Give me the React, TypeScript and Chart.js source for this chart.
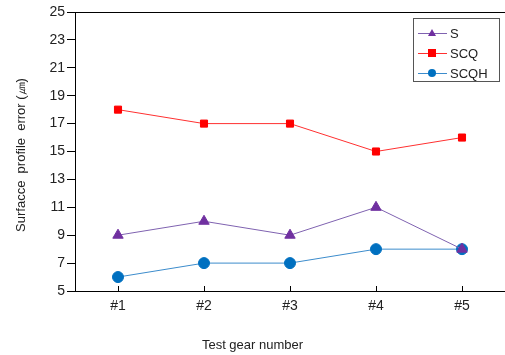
import React, { useEffect, useRef } from "react";
import { Chart, registerables } from "chart.js";

Chart.register(...registerables);

const gears = ["#1", "#2", "#3", "#4", "#5"];
const sValues = [9, 10, 9, 11, 8];
const scqValues = [18, 17, 17, 15, 16];
const scqhValues = [6, 7, 7, 8, 8];

const yTitle = "Surfacce  profile  error (㎛)";
const xTitle = "Test gear number";

const FONT = "'Liberation Sans', Arial, sans-serif";

const series = [
  { label: "S", data: sValues, line: "#7f62b0", fill: "#7030a0", style: "triangle" },
  { label: "SCQ", data: scqValues, line: "#ff3030", fill: "#ff0000", style: "rect" },
  { label: "SCQH", data: scqhValues, line: "#3c8ccc", fill: "#0070c0", style: "circle" },
];

function drawMarker(ctx: CanvasRenderingContext2D, style: string, x: number, y: number, r: number, color: string) {
  ctx.save();
  ctx.fillStyle = color;
  ctx.beginPath();
  if (style === "circle") {
    ctx.arc(x, y, r, 0, Math.PI * 2);
  } else if (style === "rect") {
    ctx.rect(x - r, y - r, r * 2, r * 2);
  } else {
    ctx.moveTo(x, y - r);
    ctx.lineTo(x + r, y + r * 0.75);
    ctx.lineTo(x - r, y + r * 0.75);
    ctx.closePath();
  }
  ctx.fill();
  ctx.restore();
}

const decorations = {
  id: "decorations",
  afterDraw(chart: any) {
    const { ctx, chartArea } = chart;
    const xScale = chart.scales.x;
    ctx.save();
    // top frame line
    ctx.strokeStyle = "#000";
    ctx.lineWidth = 1;
    ctx.beginPath();
    ctx.moveTo(chartArea.left, chartArea.top + 0.5);
    ctx.lineTo(chartArea.right, chartArea.top + 0.5);
    ctx.stroke();
    // inward category ticks on the x axis
    ctx.beginPath();
    gears.forEach((_, i) => {
      const x = Math.round(xScale.getPixelForValue(i)) + 0.5;
      ctx.moveTo(x, chartArea.bottom);
      ctx.lineTo(x, chartArea.bottom - 5);
    });
    ctx.stroke();

    // axis titles
    ctx.fillStyle = "#222";
    ctx.font = `13px ${FONT}`;
    ctx.textAlign = "center";
    ctx.textBaseline = "middle";
    ctx.fillText(xTitle, chart.width / 2, 345);
    ctx.save();
    ctx.translate(21, 155);
    ctx.rotate(-Math.PI / 2);
    ctx.fillText(yTitle, 0, 0);
    ctx.restore();

    // legend box
    const bx = 413, by = 18, bw = 86, bh = 63;
    ctx.fillStyle = "#fff";
    ctx.fillRect(bx, by, bw, bh);
    ctx.strokeStyle = "#555";
    ctx.strokeRect(bx + 0.5, by + 0.5, bw, bh);
    ctx.font = `13px ${FONT}`;
    ctx.textAlign = "left";
    series.forEach((s, i) => {
      const y = by + 15 + i * 20;
      ctx.strokeStyle = s.line;
      ctx.lineWidth = 1;
      ctx.beginPath();
      ctx.moveTo(bx + 5, y + 0.5);
      ctx.lineTo(bx + 34, y + 0.5);
      ctx.stroke();
      drawMarker(ctx, s.style, bx + 19, y, 4, s.fill);
      ctx.fillStyle = "#222";
      ctx.fillText(s.label, bx + 37, y + 1);
    });
    ctx.restore();
  },
};

export default function App() {
  const ref = useRef<HTMLCanvasElement>(null);
  useEffect(() => {
    document.body.style.margin = "0";
    const chart = new Chart(ref.current!, {
      type: "line",
      data: {
        labels: gears,
        datasets: series.map((s) => ({
          label: s.label,
          data: s.data,
          borderColor: s.line,
          backgroundColor: s.fill,
          pointBackgroundColor: s.fill,
          pointBorderColor: s.fill,
          pointStyle: s.style as any,
          pointRadius: s.style === "rect" ? 5 : s.style === "circle" ? 5.5 : 6,
          borderWidth: 1,
          tension: 0,
        })),
      },
      options: {
        animation: false,
        responsive: false,
        layout: { autoPadding: false, padding: { top: 12, right: 0, left: 0, bottom: 0 } },
        plugins: { legend: { display: false }, tooltip: { enabled: false } },
        scales: {
          x: {
            offset: true,
            grid: { display: false, drawTicks: false },
            border: { display: true, color: "#000", width: 1 },
            ticks: { color: "#222", font: { size: 14, family: FONT }, padding: 7 },
            afterFit: (scale: any) => {
              scale.height = 64;
              scale.paddingRight = 0;
              scale.paddingLeft = 0;
            },
          },
          y: {
            min: 5,
            max: 25,
            grid: { drawOnChartArea: false, drawTicks: true, tickLength: 8, color: "#000" },
            border: { display: true, color: "#000", width: 1 },
            ticks: { stepSize: 2, color: "#222", font: { size: 14, family: FONT }, padding: 2 },
            afterFit: (scale: any) => {
              scale.width = 75;
            },
          },
        },
      },
      plugins: [decorations],
    });
    return () => chart.destroy();
  }, []);
  return (
    <div style={{ width: 505, height: 355 }}>
      <canvas ref={ref} width={505} height={355} />
    </div>
  );
}
